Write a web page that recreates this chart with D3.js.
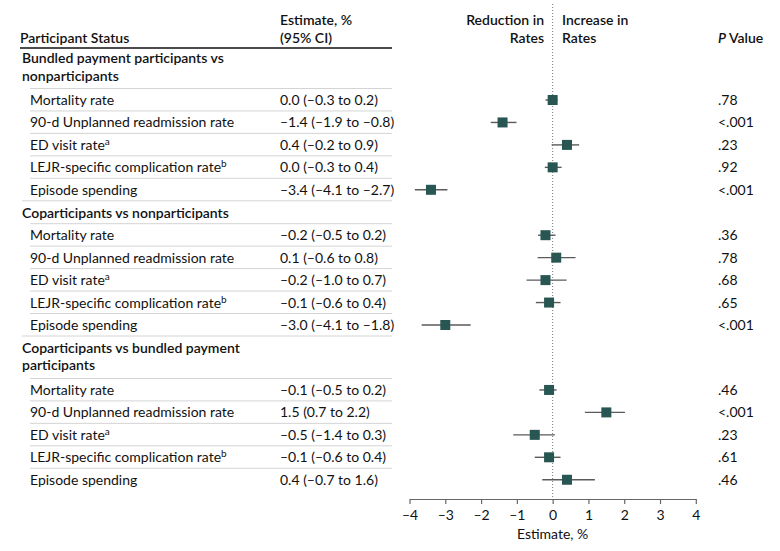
<!DOCTYPE html>
<meta charset="utf-8">
<head>
    <title>Forest plot - participant status</title>
    <style>
        body { margin: 0; background: #fff; }
        text { font-family: Lato, "Open Sans", sans-serif; font-size: 14px; fill: #111; }
        .hdr { font-weight: 600; }
    </style>
</head>
<body>
<script src="https://cdn.jsdelivr.net/npm/d3@7"></script>
<script>
    // data
    var groups = [
        ["Bundled payment participants vs", "nonparticipants"],
        ["Coparticipants vs nonparticipants"],
        ["Coparticipants vs bundled payment", "participants"]
    ];
    var outcomes = ["Mortality rate", "90-d Unplanned readmission rate", "ED visit rate", "LEJR-specific complication rate", "Episode spending"];
    var outcomeSup = ["", "", "a", "b", ""];
    var estimates = [
        [0.0, -1.4, 0.4, 0.0, -3.4],
        [-0.2, 0.1, -0.2, -0.1, -3.0],
        [-0.1, 1.5, -0.5, -0.1, 0.4]
    ];
    // 95% CI as printed in the table
    var lower = [
        [-0.3, -1.9, -0.2, -0.3, -4.1],
        [-0.5, -0.6, -1.0, -0.6, -4.1],
        [-0.5, 0.7, -1.4, -0.6, -0.7]
    ];
    var upper = [
        [0.2, -0.8, 0.9, 0.4, -2.7],
        [0.2, 0.8, 0.7, 0.4, -1.8],
        [0.2, 2.2, 0.3, 0.4, 1.6]
    ];
    // whisker ends as drawn in the plot
    var whiskerLo = [
        [-0.2, -1.73, -0.03, -0.22, -3.85],
        [-0.41, -0.42, -0.73, -0.47, -3.66],
        [-0.37, 0.9, -1.1, -0.5, -0.29]
    ];
    var whiskerHi = [
        [0.14, -1.01, 0.74, 0.25, -2.94],
        [0.08, 0.64, 0.39, 0.22, -2.29],
        [0.11, 2.02, 0.06, 0.22, 1.18]
    ];
    var pValues = [
        [".78", "<.001", ".23", ".92", "<.001"],
        [".36", ".78", ".68", ".65", "<.001"],
        [".46", "<.001", ".23", ".61", ".46"]
    ];
    var xTicks = [-4, -3, -2, -1, 0, 1, 2, 3, 4];

    var width = 780, height = 551;
    var svg = d3.select("body").append("svg")
        .attr("width", width)
        .attr("height", height);

    var x = d3.scaleLinear().domain([-4, 4]).range([409.5, 695.8]);
    var axisY = 499;
    var rowH = 22.45;

    // build the row layout (y centers)
    var rows = [];
    var heads = [];
    var y = 58;
    groups.forEach(function (g, gi) {
        heads.push({ lines: g, y: y, gi: gi });
        y += g.length > 1 ? 42 : rowH;
        outcomes.forEach(function (o, oi) {
            rows.push({
                gi: gi, oi: oi, y: y, label: o, sup: outcomeSup[oi],
                est: estimates[gi][oi], lo: lower[gi][oi], hi: upper[gi][oi], p: pValues[gi][oi],
                wlo: whiskerLo[gi][oi], whi: whiskerHi[gi][oi]
            });
            if (oi < outcomes.length - 1) y += rowH;
        });
        y += rowH + 0.5;
    });

    function fmt(v) { return v.toFixed(1).replace("-", "\u2013"); }

    // column header
    svg.append("text").attr("class", "hdr").attr("x", 20).attr("y", 43).text("Participant Status");
    svg.append("text").attr("class", "hdr").attr("x", 280).attr("y", 25).text("Estimate, %");
    svg.append("text").attr("class", "hdr").attr("x", 280).attr("y", 43).text("(95% CI)");
    svg.append("text").attr("class", "hdr").attr("x", 544).attr("y", 25).attr("text-anchor", "end").text("Reduction in");
    svg.append("text").attr("class", "hdr").attr("x", 544).attr("y", 43).attr("text-anchor", "end").text("Rates");
    svg.append("text").attr("class", "hdr").attr("x", 562).attr("y", 25).text("Increase in");
    svg.append("text").attr("class", "hdr").attr("x", 562).attr("y", 43).text("Rates");
    var pv = svg.append("text").attr("class", "hdr").attr("x", 718).attr("y", 43);
    pv.append("tspan").style("font-style", "italic").text("P");
    pv.append("tspan").text(" Value");

    svg.append("line")
        .attr("x1", 20).attr("x2", 392).attr("y1", 48).attr("y2", 48)
        .attr("stroke", "#111").attr("stroke-width", 1.5);

    // separators
    var seps = svg.append("g").attr("stroke", "#d4d4d4").attr("stroke-width", 1);
    rows.forEach(function (r) {
        seps.append("line").attr("x1", 30).attr("x2", 392)
            .attr("y1", r.y - 11.5).attr("y2", r.y - 11.5);
        if (r.oi === outcomes.length - 1 && r.gi < groups.length - 1) {
            seps.append("line").attr("x1", 22).attr("x2", 392)
                .attr("y1", r.y + 11).attr("y2", r.y + 11);
        }
    });

    // group headers
    heads.forEach(function (h) {
        h.lines.forEach(function (l, li) {
            svg.append("text").attr("class", "hdr")
                .attr("x", 22).attr("y", h.y + li * 17.5 + 5).text(l);
        });
    });

    // row labels, estimates, p values
    var rg = svg.append("g").selectAll("g").data(rows).enter().append("g");
    var lab = rg.append("text").attr("x", 30).attr("y", function (d) { return d.y + 5; });
    lab.append("tspan").text(function (d) { return d.label; });
    lab.append("tspan").attr("dy", -5).style("font-size", "10px")
        .text(function (d) { return d.sup; });
    rg.append("text").attr("x", 280).attr("y", function (d) { return d.y + 5; })
        .text(function (d) { return fmt(d.est) + " (" + fmt(d.lo) + " to " + fmt(d.hi) + ")"; });
    rg.append("text").attr("x", 718).attr("y", function (d) { return d.y + 5; })
        .text(function (d) { return d.p; });

    // zero line
    svg.append("line")
        .attr("x1", x(0)).attr("x2", x(0)).attr("y1", 4).attr("y2", axisY)
        .attr("stroke", "#777").attr("stroke-width", 1).attr("stroke-dasharray", "1,2");

    // axis
    var axis = svg.append("g")
        .attr("transform", "translate(0," + axisY + ")")
        .call(d3.axisBottom(x).tickValues(xTicks).tickSize(5).tickSizeOuter(0)
            .tickFormat(function (d) { return String(d).replace("-", "\u2013"); }));
    axis.select(".domain").attr("stroke", "#666").attr("stroke-width", 1.2);
    axis.selectAll(".tick line").attr("stroke", "#666").attr("stroke-width", 1.2);
    axis.selectAll(".tick text").attr("font-family", null).style("font-size", "14px").attr("dy", "0.9em");
    svg.append("text").attr("x", x(0)).attr("y", 539).attr("text-anchor", "middle").text("Estimate, %");

    // CIs and points
    var marks = svg.append("g").selectAll("g").data(rows).enter().append("g");
    marks.append("line")
        .attr("x1", function (d) { return x(d.wlo); })
        .attr("x2", function (d) { return x(d.whi); })
        .attr("y1", function (d) { return d.y; })
        .attr("y2", function (d) { return d.y; })
        .attr("stroke", "#5a5a5a").attr("stroke-width", 1.4);
    marks.append("rect")
        .attr("x", function (d) { return x(d.est) - 5; })
        .attr("y", function (d) { return d.y - 5; })
        .attr("width", 10).attr("height", 10)
        .attr("fill", "#285652");
</script>
</body>
</html>
